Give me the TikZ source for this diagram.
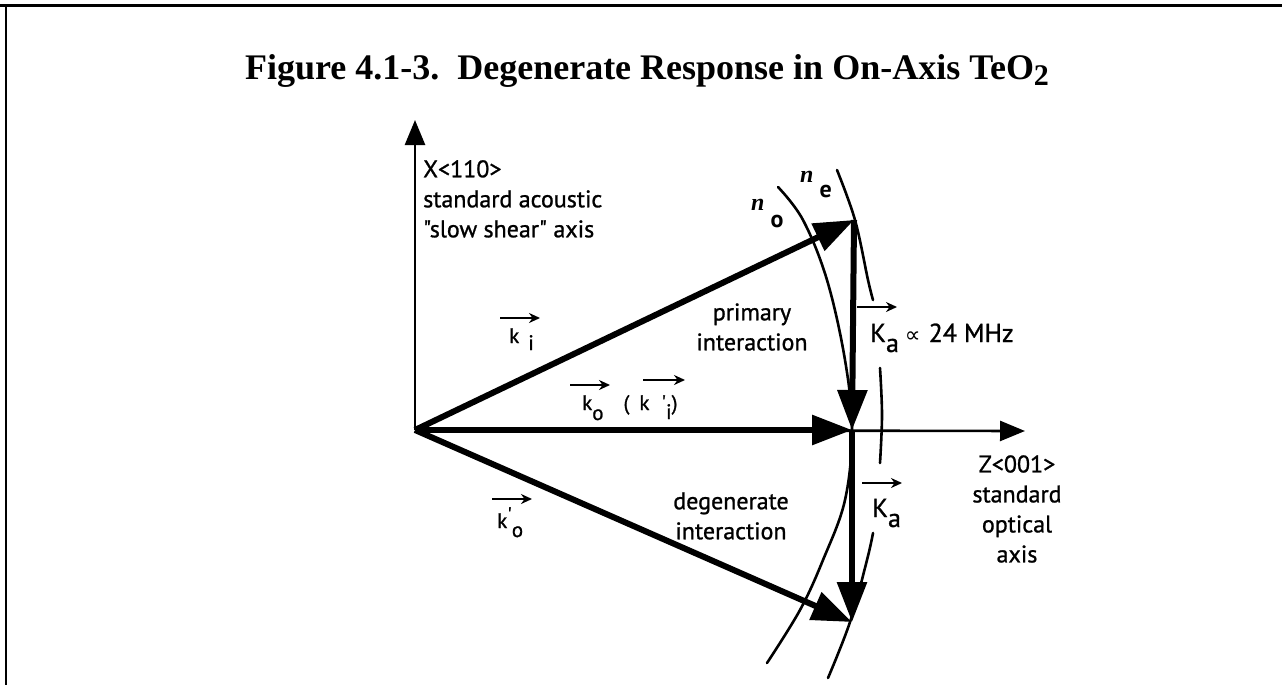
\documentclass[tikz,border=0pt]{standalone}
\usepackage{fontspec}
\setmainfont{Liberation Serif}
\newfontfamily\lab[FakeBold=1]{PT Sans}
\newfontfamily\labb{PT Sans}
\newfontfamily\symb{DejaVu Sans}
\usetikzlibrary{arrows.meta}
\tikzset{
  vec/.style={line width=6pt,-{Triangle[length=40pt,width=29pt]}},
  axisline/.style={line width=2.6pt,-{Triangle[length=25pt,width=20pt]}},
  surf/.style={line width=2.6pt,line cap=round},
  overvec/.style={line width=2.4pt,-{Stealth[length=11pt,width=10pt]}},
  lbl/.style={inner sep=0pt,font=\lab\fontsize{24}{30}\selectfont},
  small/.style={inner sep=0pt,font=\lab\fontsize{21}{25}\selectfont},
  big/.style={inner sep=0pt,font=\lab\fontsize{26}{30}\selectfont},
  idx/.style={inner sep=0pt,font=\fontsize{24}{28}\selectfont\bfseries\itshape},
}
\begin{document}
\begin{tikzpicture}[x=1pt,y=-1pt]
\useasboundingbox (0,0) rectangle (1282,685);
% frame
\draw[line width=3pt] (0,6) -- (1282,6);
\draw[line width=2pt] (6,6) -- (6,685);
% title
\node[inner sep=0pt,anchor=base,font=\fontsize{36}{40}\selectfont\bfseries] (title) at (647,79)
  {Figure 4.1-3.\ \ Degenerate Response in On-Axis TeO\raisebox{-6pt}{\fontsize{30}{32}\selectfont 2}};
% points
\coordinate (O) at (415,430);
\coordinate (Xtip) at (415,120);
\coordinate (Ztip) at (1025,431);
\coordinate (T) at (854,220);
\coordinate (P) at (852,430);
\coordinate (B) at (852,622);
% axes
\draw[axisline] (O) -- (Xtip);
\draw[axisline] (O) -- (Ztip);
% index surfaces
\draw[surf] plot[smooth,tension=0.6] coordinates {(778,187) (803,220) (827,280) (845,360) (852,430) (845,500) (823,560) (800,610) (767,663)};
\draw[surf] plot[smooth,tension=0.6] coordinates {(837,170) (855,220) (868,280) (873,300)};
\draw[surf] plot[smooth,tension=0.6] coordinates {(880,368) (882,415) (880,463)};
\draw[surf] plot[smooth,tension=0.6] coordinates {(873,533) (867,560) (850,622) (828,678)};
% wave vectors
\draw[vec] (O) -- (T);
\draw[vec] (O) -- (P);
\draw[vec] (O) -- (B);
\draw[vec] (T) -- (P);
\draw[vec] (P) -- (B);
% labels
\node[lbl,anchor=north west,align=left] (xlab) at (423,160)
  {X<110>\\standard acoustic\\"slow shear" axis};
\node[lbl,align=center] (zlab) at (1017,509)
  {Z<001>\\standard\\optical\\axis};
\node[lbl,align=center] (prim) at (752,327) {primary\\interaction};
\node[lbl,align=center] (degen) at (731,516) {degenerate\\interaction};
\node[idx,anchor=base west] (no) at (751,210) {n\hspace{6pt}\raisebox{-17pt}{\labb\bfseries\upshape o}};
\node[idx,anchor=base west] (ne) at (800,182) {n\hspace{6pt}\raisebox{-15pt}{\labb\bfseries\upshape e}};
\node[small,anchor=base west] (ki) at (509,343) {k\hspace{9pt}\raisebox{-7pt}{i}};
\draw[overvec] ([shift={(-9,-25)}]ki.base west) -- ++(40,0);
\node[small,anchor=base west] (ko) at (582,410)
  {k\raisebox{-10pt}{o}\hspace{20pt}(\hspace{10pt}k\hspace{12pt}'\raisebox{-9pt}{i})};
\draw[overvec] ([shift={(-12,-25)}]ko.base west) -- ++(40,0);
\draw[overvec] ([shift={(61,-30)}]ko.base west) -- ++(42,0);
\node[small,anchor=base west] (kpo) at (497,528)
  {k\raisebox{6pt}{'}\raisebox{-9pt}{o}};
\draw[overvec] ([shift={(-5,-29)}]kpo.base west) -- ++(40,0);
\node[big,anchor=base west] (Ka) at (870,342)
  {K\raisebox{-10pt}{a}\hspace{6pt}{\symb\fontsize{22}{26}\selectfont ∝}\hspace{8pt}24 MHz};
\draw[overvec] ([shift={(-13,-35)}]Ka.base west) -- ++(40,0);
\node[big,anchor=base west] (Ka2) at (872,517) {K\raisebox{-10pt}{a}};
\draw[overvec] ([shift={(-10,-34)}]Ka2.base west) -- ++(40,0);
\end{tikzpicture}
\end{document}
